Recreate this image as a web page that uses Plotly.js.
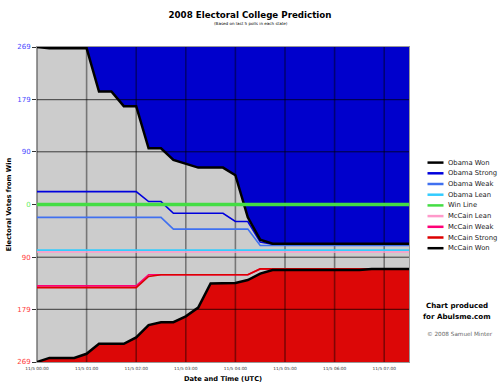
<!DOCTYPE html>
<html>
<head>
<meta charset="utf-8">
<script src="https://cdn.plot.ly/plotly-3.0.1.min.js"></script>
<style>html,body{margin:0;padding:0;background:#fff;}#chart{width:500px;height:391px;}</style>
</head>
<body>
<div id="chart"></div>
<script>
// ---- data ----
const times = ['00:00','00:15','00:30','00:45','01:00','01:15','01:30','01:45','02:00','02:15','02:30','02:45',
  '03:00','03:15','03:30','03:45','04:00','04:15','04:30','04:45','05:00','05:15','05:30','05:45',
  '06:00','06:15','06:30','06:45','07:00','07:15','07:30'];
const obamaWon    = [269,267,267,267,267,193,193,168,168,96,96,76,70,63,63,63,50,-22,-60,-67,-67,-67,-67,-67,-67,-67,-67,-67,-67,-67,-67];
const obamaStrong = [22,22,22,22,22,22,22,22,22,5,5,-15,-15,-15,-15,-15,-29,-29,-64,-68,-68,-68,-68,-68,-68,-68,-68,-68,-68,-68,-68];
const obamaWeak   = [-22,-22,-22,-22,-22,-22,-22,-22,-22,-22,-22,-42,-42,-42,-42,-42,-42,-42,-70,-70,-70,-70,-70,-70,-70,-70,-70,-70,-70,-70,-70];
const obamaLean   = [-78,-78,-78,-78,-78,-78,-78,-78,-78,-78,-78,-78,-78,-78,-78,-78,-78,-78,-78,-78,-78,-78,-78,-78,-78,-78,-78,-78,-78,-78,-78];
const winLine     = [0,0,0,0,0,0,0,0,0,0,0,0,0,0,0,0,0,0,0,0,0,0,0,0,0,0,0,0,0,0,0];
const mccainLean  = [-81,-81,-81,-81,-81,-81,-81,-81,-81,-81,-81,-81,-81,-81,-81,-81,-81,-81,-81,-81,-81,-81,-81,-81,-81,-81,-81,-81,-81,-81,-81];
const mccainWeak  = [-139,-139,-139,-139,-139,-139,-139,-139,-139,-120,-120,-120,-120,-120,-120,-120,-120,-120,-110,-110,-110,-110,-110,-110,-110,-110,-110,-110,-110,-110,-110];
const mccainStrong= [-142,-142,-142,-142,-142,-142,-142,-142,-142,-123,-120,-120,-120,-120,-120,-120,-120,-120,-110,-110,-110,-110,-110,-110,-110,-110,-110,-110,-110,-110,-110];
const mccainWon   = [-269,-262,-262,-262,-255,-238,-238,-238,-227,-206,-201,-201,-191,-176,-135,-135,-134,-129,-118,-112,-112,-112,-112,-112,-112,-112,-112,-110,-110,-110,-110];

const hourTicks = ['00:00','01:00','02:00','03:00','04:00','05:00','06:00','07:00'];
const yTickVals = [269,179,90,0,-90,-179,-269];
const yTickText = ['269','179','90','0','90','179','269'];
const seriesNames = ['Obama Won','Obama Strong','Obama Weak','Obama Lean','Win Line','McCain Lean','McCain Weak','McCain Strong','McCain Won'];

// ---- styles ----
const day = '2008-11-05 ';
const x = times.map(t => day + t);
const yMax = 269, yMin = -269;
const colors = {
  'Obama Won':'#000000','Obama Strong':'#0000dd','Obama Weak':'#4070f0','Obama Lean':'#33ccff',
  'Win Line':'#44dd44','McCain Lean':'#ff9acb','McCain Weak':'#ff0077','McCain Strong':'#dd0000','McCain Won':'#000000'
};
const widths = {
  'Obama Won':2.5,'Obama Strong':1.6,'Obama Weak':1.6,'Obama Lean':1.6,'Win Line':3.6,
  'McCain Lean':1.6,'McCain Weak':1.6,'McCain Strong':1.6,'McCain Won':2.5
};
const seriesData = {
  'Obama Won':obamaWon,'Obama Strong':obamaStrong,'Obama Weak':obamaWeak,'Obama Lean':obamaLean,
  'Win Line':winLine,'McCain Lean':mccainLean,'McCain Weak':mccainWeak,'McCain Strong':mccainStrong,'McCain Won':mccainWon
};

const traces = [];
// fills
traces.push({x:x, y:x.map(()=>yMax), mode:'lines', line:{width:0}, showlegend:false, hoverinfo:'skip'});
traces.push({x:x, y:obamaWon, mode:'lines', line:{width:0}, fill:'tonexty', fillcolor:'#0000cc', showlegend:false, hoverinfo:'skip'});
traces.push({x:x, y:x.map(()=>yMin), mode:'lines', line:{width:0}, showlegend:false, hoverinfo:'skip'});
traces.push({x:x, y:mccainWon, mode:'lines', line:{width:0}, fill:'tonexty', fillcolor:'#dc0707', showlegend:false, hoverinfo:'skip'});

// grid lines (drawn above fills, below series lines)
const vx = [], vy = [];
hourTicks.forEach(h => { vx.push(day+h, day+h, null); vy.push(yMin, yMax, null); });
traces.push({x:vx, y:vy, mode:'lines', line:{color:'rgba(0,0,0,0.42)', width:1.6}, showlegend:false, hoverinfo:'skip'});
const hx = [], hy = [];
yTickVals.filter(v => v !== 0 && Math.abs(v) !== yMax).forEach(v => { hx.push(x[0], x[x.length-1], null); hy.push(v, v, null); });
traces.push({x:hx, y:hy, mode:'lines', line:{color:'rgba(0,0,0,0.72)', width:1}, showlegend:false, hoverinfo:'skip'});

// series lines
['Obama Lean','McCain Lean','Obama Weak','McCain Weak','McCain Strong','Obama Strong','Obama Won','McCain Won','Win Line'].forEach(n => {
  traces.push({x:x, y:seriesData[n], mode:'lines', name:n, line:{color:colors[n], width:widths[n]}, showlegend:false});
});

// ---- manual legend & notes ----
const L = 37, R = 409, T = 47, B = 362;
const xp = px => (px - L) / (R - L);
const yp = py => (B - py) / (B - T);
const shapes = [], annotations = [];
seriesNames.forEach((n, i) => {
  const yy = 162.6 + i * 10.7;
  shapes.push({type:'line', xref:'paper', yref:'paper', x0:xp(427.5), x1:xp(443.5), y0:yp(yy), y1:yp(yy),
    line:{color:colors[n], width:2.5}});
  annotations.push({xref:'paper', yref:'paper', x:xp(445.5), y:yp(yy), xanchor:'left', yanchor:'middle',
    text:n, showarrow:false, font:{family:'DejaVu Sans', size:6.8, color:'#222'}});
});
annotations.push({xref:'paper', yref:'paper', x:xp(456.7), y:yp(305.7), xanchor:'center', yanchor:'middle',
  text:'Chart produced', showarrow:false, font:{family:'DejaVu Sans', size:7.1, color:'#000', weight:'bold'}});
annotations.push({xref:'paper', yref:'paper', x:xp(456.7), y:yp(316), xanchor:'center', yanchor:'middle',
  text:'for Abulsme.com', showarrow:false, font:{family:'DejaVu Sans', size:7.1, color:'#000', weight:'bold'}});
annotations.push({xref:'paper', yref:'paper', x:xp(459.5), y:yp(334), xanchor:'center', yanchor:'middle',
  text:'© 2008 Samuel Minter', showarrow:false, font:{family:'DejaVu Sans', size:5.7, color:'#666'}});
annotations.push({xref:'paper', yref:'paper', x:xp(250.5), y:yp(23.7), xanchor:'center', yanchor:'middle',
  text:'(Based on last 5 polls in each state)', showarrow:false, font:{family:'DejaVu Sans', size:4.1, color:'#000'}});

const yColors = ['#4a4aff','#4a4aff','#4a4aff','#66ee66','#ff3a3a','#ff3a3a','#ff3a3a'];

const layout = {
  width:500, height:391,
  margin:{l:L, r:500-R, t:T, b:391-B, pad:0},
  paper_bgcolor:'#ffffff', plot_bgcolor:'#cccccc',
  font:{family:'DejaVu Sans', color:'#000'},
  showlegend:false,
  title:{text:'2008 Electoral College Prediction', x:0.5, xref:'container', xanchor:'center',
    y:1-15/391, yref:'container', yanchor:'middle', font:{family:'DejaVu Sans', size:8.7, weight:'bold', color:'#000'}},
  xaxis:{type:'date', range:[x[0], x[x.length-1]], tickvals:hourTicks.map(h=>day+h), ticktext:hourTicks.map(h=>'11/5 '+h),
    tickfont:{size:4.3, color:'#333'}, ticks:'outside', ticklen:2, tickcolor:'rgba(0,0,0,0)', showgrid:false, zeroline:false,
    showline:true, linecolor:'#999', linewidth:1, mirror:true,
    title:{text:'Date and Time (UTC)', font:{size:6.7, weight:'bold', color:'#000'}, standoff:6}},
  yaxis:{range:[yMin, yMax], tickvals:yTickVals,
    ticktext:yTickText.map((t,i)=>'<span style="color:'+yColors[i]+'">'+t+'</span>'),
    tickfont:{size:7}, ticks:'outside', ticklen:4, tickcolor:'#333', showgrid:false, zeroline:false,
    showline:true, linecolor:'#999', linewidth:1, mirror:true,
    title:{text:'Electoral Votes from Win', font:{size:6.7, weight:'bold', color:'#000'}, standoff:4}},
  shapes:shapes, annotations:annotations
};

Plotly.newPlot('chart', traces, layout, {staticPlot:true, displayModeBar:false});
</script>
</body>
</html>
